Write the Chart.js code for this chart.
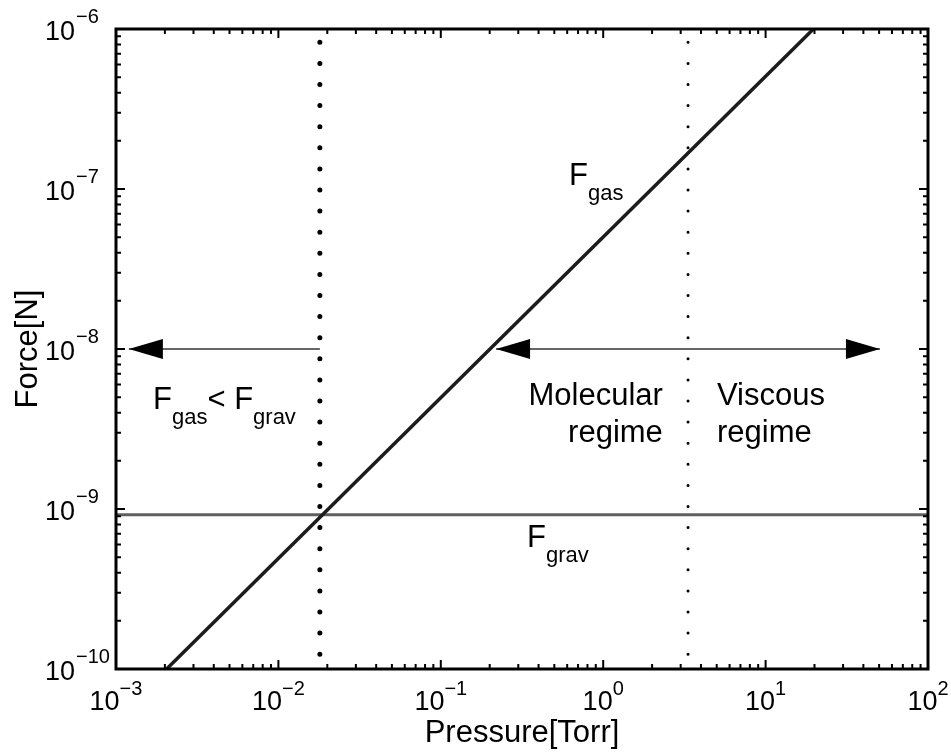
<!DOCTYPE html>
<html>
<head>
<meta charset="utf-8">
<script src="https://cdn.jsdelivr.net/npm/chart.js@4.4.1/dist/chart.umd.min.js"></script>
<style>
    body { margin: 0; background: #fff; }
</style>
</head>
<body>
<canvas id="forceChart" width="951" height="752"></canvas>
<script>
// values
const gasPressure = [0.00205, 19.7];
const gasForce = [1e-10, 1e-6];
const gravPressure = [1e-3, 1e2];
const gravForce = [9.2e-10, 9.2e-10];
const limitPressure = [0.018, 0.018];     // where F_gas = F_grav
const regimePressure = [3.33, 3.33];      // molecular / viscous boundary
const dividerForce = [1e-6, 1e-10];
const leftArrowPressure = [0.018, 0.0012];
const rightArrowPressure = [0.219, 50.6];
const arrowForce = [1e-8, 1e-8];

const xExponents = [-3, -2, -1, 0, 1, 2];
const yExponents = [-10, -9, -8, -7, -6];
const minorSteps = [2, 3, 4, 5, 6, 7, 8, 9];

// text notes, placed in data coordinates (x, y = baseline)
const notes = [
    { parts: [['F', 0], ['gas', 1]], x: 0.616, y: 1.06e-7, align: 'left' },
    { parts: [['F', 0], ['grav', 1]], x: 0.340, y: 5.8e-10, align: 'left' },
    { parts: [['F', 0], ['gas', 1], ['< F', 0], ['grav', 1]], x: 0.00169, y: 4.2e-9, align: 'left' },
    { parts: [['Molecular', 0]], x: 2.33, y: 4.47e-9, align: 'right' },
    { parts: [['regime', 0]], x: 2.33, y: 2.62e-9, align: 'right' },
    { parts: [['Viscous', 0]], x: 5.02, y: 4.47e-9, align: 'left' },
    { parts: [['regime', 0]], x: 5.02, y: 2.62e-9, align: 'left' }
];

const FONT = '"Liberation Sans", Arial, Helvetica, sans-serif';
const MAIN = '31px ' + FONT;
const SUB = '22px ' + FONT;
const TICK = '27px ' + FONT;
const EXP = '20px ' + FONT;

const pairs = (xs, ys) => xs.map((v, i) => ({ x: v, y: ys[i] }));

function drawHead(ctx, tip, from) {
    const dir = Math.sign(tip.x - from.x);
    ctx.beginPath();
    ctx.moveTo(tip.x, tip.y);
    ctx.lineTo(tip.x - dir * 34, tip.y - 10);
    ctx.lineTo(tip.x - dir * 34, tip.y + 10);
    ctx.closePath();
    ctx.fill();
}

function drawRich(ctx, parts, x, y, align) {
    const widths = parts.map(([t, sub]) => {
        ctx.font = sub ? SUB : MAIN;
        return ctx.measureText(t).width;
    });
    let cx = align === 'right' ? x - widths.reduce((s, w) => s + w, 0) : x;
    parts.forEach(([t, sub], i) => {
        ctx.font = sub ? SUB : MAIN;
        ctx.fillText(t, cx, sub ? y + 15 : y);
        cx += widths[i];
    });
}

function tickValues(exps) {
    const major = exps.map(e => Math.pow(10, e));
    const minor = [];
    exps.slice(0, -1).forEach(e => minorSteps.forEach(m => minor.push(m * Math.pow(10, e))));
    return { major, minor };
}

const axesPlugin = {
    id: 'matlabAxes',
    afterDatasetsDraw(chart) {
        const { ctx, chartArea: a, scales: { x, y } } = chart;
        ctx.save();
        ctx.fillStyle = '#000';

        // arrow heads on the arrow datasets
        chart.data.datasets.forEach((ds, i) => {
            if (!ds.heads) return;
            const pts = chart.getDatasetMeta(i).data;
            const first = pts[0], last = pts[pts.length - 1];
            drawHead(ctx, last, first);
            if (ds.heads === 'both') drawHead(ctx, first, last);
        });

        // inward ticks on all four sides
        ctx.strokeStyle = '#000';
        ctx.lineWidth = 2;
        const xt = tickValues(xExponents), yt = tickValues(yExponents);
        const tick = (vals, len, isX) => vals.forEach(v => {
            ctx.beginPath();
            if (isX) {
                const px = x.getPixelForValue(v);
                ctx.moveTo(px, a.bottom); ctx.lineTo(px, a.bottom - len);
                ctx.moveTo(px, a.top); ctx.lineTo(px, a.top + len);
            } else {
                const py = y.getPixelForValue(v);
                ctx.moveTo(a.left, py); ctx.lineTo(a.left + len, py);
                ctx.moveTo(a.right, py); ctx.lineTo(a.right - len, py);
            }
            ctx.stroke();
        });
        tick(xt.major, 9, true); tick(xt.minor, 5, true);
        tick(yt.major, 9, false); tick(yt.minor, 5, false);

        // frame
        ctx.lineWidth = 3;
        ctx.strokeRect(a.left, a.top, a.right - a.left, a.bottom - a.top);

        // tick labels 10^n
        ctx.textBaseline = 'alphabetic';
        ctx.textAlign = 'left';
        xExponents.forEach(e => {
            const px = x.getPixelForValue(Math.pow(10, e));
            const exp = e < 0 ? '\u2212' + (-e) : String(e);
            ctx.font = TICK;
            const w1 = ctx.measureText('10').width;
            ctx.font = EXP;
            const w2 = ctx.measureText(exp).width;
            const start = px - (w1 + w2) / 2;
            ctx.font = TICK;
            ctx.fillText('10', start, a.bottom + 41);
            ctx.font = EXP;
            ctx.fillText(exp, start + w1, a.bottom + 26);
        });
        yExponents.forEach(e => {
            const py = y.getPixelForValue(Math.pow(10, e));
            const exp = '\u2212' + (-e);
            ctx.font = TICK;
            ctx.textAlign = 'right';
            ctx.fillText('10', a.left - 41, py + 11);
            ctx.font = EXP;
            ctx.textAlign = 'left';
            ctx.fillText(exp, a.left - 40, py - 6);
        });

        // axis titles
        ctx.font = MAIN;
        ctx.textAlign = 'center';
        ctx.fillText('Pressure[Torr]', (a.left + a.right) / 2, a.bottom + 73);
        ctx.save();
        ctx.translate(a.left - 79, (a.top + a.bottom) / 2);
        ctx.rotate(-Math.PI / 2);
        ctx.fillText('Force[N]', 0, 0);
        ctx.restore();

        // notes
        notes.forEach(n => {
            ctx.textAlign = 'left';
            drawRich(ctx, n.parts, x.getPixelForValue(n.x), y.getPixelForValue(n.y), n.align);
        });
        ctx.restore();
    }
};

const line = (data, color, width, extra) => Object.assign({
    data, borderColor: color, borderWidth: width, showLine: true,
    pointRadius: 0, fill: false
}, extra || {});

const dots = { borderDash: [0, 21.1], borderDashOffset: 7.8, borderCapStyle: 'round' };

new Chart(document.getElementById('forceChart'), {
    type: 'scatter',
    data: {
        datasets: [
            line(pairs(gasPressure, gasForce), '#1c1c1c', 3.5),
            line(pairs(gravPressure, gravForce), '#5f5f5f', 3),
            line(pairs(limitPressure, dividerForce), '#000', 5, dots),
            line(pairs(regimePressure, dividerForce), '#000', 3, dots),
            line(pairs(leftArrowPressure, arrowForce), '#333', 1.5, { heads: 'end' }),
            line(pairs(rightArrowPressure, arrowForce), '#333', 1.5, { heads: 'both' })
        ]
    },
    options: {
        responsive: false,
        animation: false,
        layout: { padding: { left: 116, top: 29, right: 23, bottom: 83 } },
        plugins: { legend: { display: false }, tooltip: { enabled: false } },
        scales: {
            x: { type: 'logarithmic', min: 1e-3, max: 1e2, display: false },
            y: { type: 'logarithmic', min: 1e-10, max: 1e-6, display: false }
        }
    },
    plugins: [axesPlugin]
});
</script>
</body>
</html>
